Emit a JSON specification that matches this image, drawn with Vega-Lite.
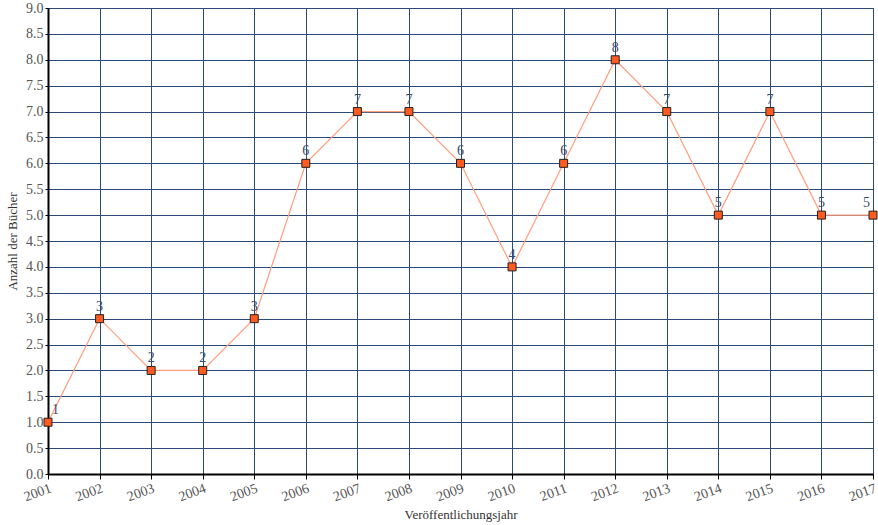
{
  "$schema": "https://vega.github.io/schema/vega-lite/v6.json",
  "autosize": "none",
  "width": 825,
  "height": 466,
  "padding": {"left": 48, "top": 8, "right": 5, "bottom": 51},
  "background": "white",
  "config": {
    "font": "Liberation Serif",
    "axis": {"labelFont": "Liberation Serif", "titleFont": "Liberation Serif"},
    "text": {"font": "Liberation Serif"},
    "view": {"stroke": "#555555", "strokeWidth": 1}
  },
  "data": {
    "values": [
      {"year": 2001, "count": 1},
      {"year": 2002, "count": 3},
      {"year": 2003, "count": 2},
      {"year": 2004, "count": 2},
      {"year": 2005, "count": 3},
      {"year": 2006, "count": 6},
      {"year": 2007, "count": 7},
      {"year": 2008, "count": 7},
      {"year": 2009, "count": 6},
      {"year": 2010, "count": 4},
      {"year": 2011, "count": 6},
      {"year": 2012, "count": 8},
      {"year": 2013, "count": 7},
      {"year": 2014, "count": 5},
      {"year": 2015, "count": 7},
      {"year": 2016, "count": 5},
      {"year": 2017, "count": 5}
    ]
  },
  "encoding": {
    "x": {
      "field": "year",
      "type": "quantitative",
      "scale": {"domain": [2001, 2017], "nice": false, "zero": false},
      "axis": {
        "values": [2001,2002,2003,2004,2005,2006,2007,2008,2009,2010,2011,2012,2013,2014,2015,2016,2017],
        "format": "d",
        "labelAngle": -20,
        "labelAlign": "right",
        "labelBaseline": "top",
        "labelFont": "Liberation Serif",
        "labelFontSize": 14,
        "labelColor": "#555555",
        "labelPadding": 2,
        "labelFlush": false,
        "labelOverlap": false,
        "domainColor": "#000000",
        "domainWidth": 2,
        "tickColor": "#000000",
        "tickSize": 5,
        "gridColor": "#2a4b78",
        "gridWidth": 1,
        "gridOpacity": 1,
        "title": "Veröffentlichungsjahr",
        "titleFont": "Liberation Serif",
        "titleFontSize": 13,
        "titleFontWeight": "normal",
        "titleColor": "#333333",
        "titleBaseline": "middle",
        "titleY": 40
      }
    },
    "y": {
      "field": "count",
      "type": "quantitative",
      "scale": {"domain": [0, 9], "nice": false},
      "axis": {
        "values": [0,0.5,1,1.5,2,2.5,3,3.5,4,4.5,5,5.5,6,6.5,7,7.5,8,8.5,9],
        "format": ".1f",
        "labelFont": "Liberation Serif",
        "labelFontSize": 14,
        "labelColor": "#555555",
        "labelPadding": 2,
        "labelFlush": false,
        "labelOverlap": false,
        "domainColor": "#000000",
        "domainWidth": 2,
        "tickColor": "#000000",
        "tickSize": 3,
        "gridColor": "#2a4b78",
        "gridWidth": 1,
        "gridOpacity": 1,
        "title": "Anzahl der Bücher",
        "titleFont": "Liberation Serif",
        "titleFontSize": 13,
        "titleFontWeight": "normal",
        "titleColor": "#333333",
        "titleBaseline": "middle",
        "titleX": -36,
        "titleY": 233
      }
    }
  },
  "layer": [
    {
      "mark": {"type": "line", "color": "#ff9c7c", "strokeWidth": 1.2}
    },
    {
      "mark": {"type": "square", "size": 64, "fill": "#ff5a1f", "fillOpacity": 1, "stroke": "#222222", "strokeWidth": 1}
    },
    {
      "transform": [{"filter": "datum.year > 2001 && datum.year < 2017"}],
      "mark": {"type": "text", "font": "Liberation Serif", "baseline": "bottom", "dy": -5, "fontSize": 14, "color": "#3a4a6a"},
      "encoding": {"text": {"field": "count", "type": "quantitative"}}
    },
    {
      "transform": [{"filter": "datum.year == 2001"}],
      "mark": {"type": "text", "font": "Liberation Serif", "baseline": "bottom", "align": "left", "dx": 4, "dy": -5, "fontSize": 14, "color": "#3a4a6a"},
      "encoding": {"text": {"field": "count", "type": "quantitative"}}
    },
    {
      "transform": [{"filter": "datum.year == 2017"}],
      "mark": {"type": "text", "font": "Liberation Serif", "baseline": "bottom", "align": "right", "dx": -3, "dy": -5, "fontSize": 14, "color": "#3a4a6a"},
      "encoding": {"text": {"field": "count", "type": "quantitative"}}
    }
  ]
}
